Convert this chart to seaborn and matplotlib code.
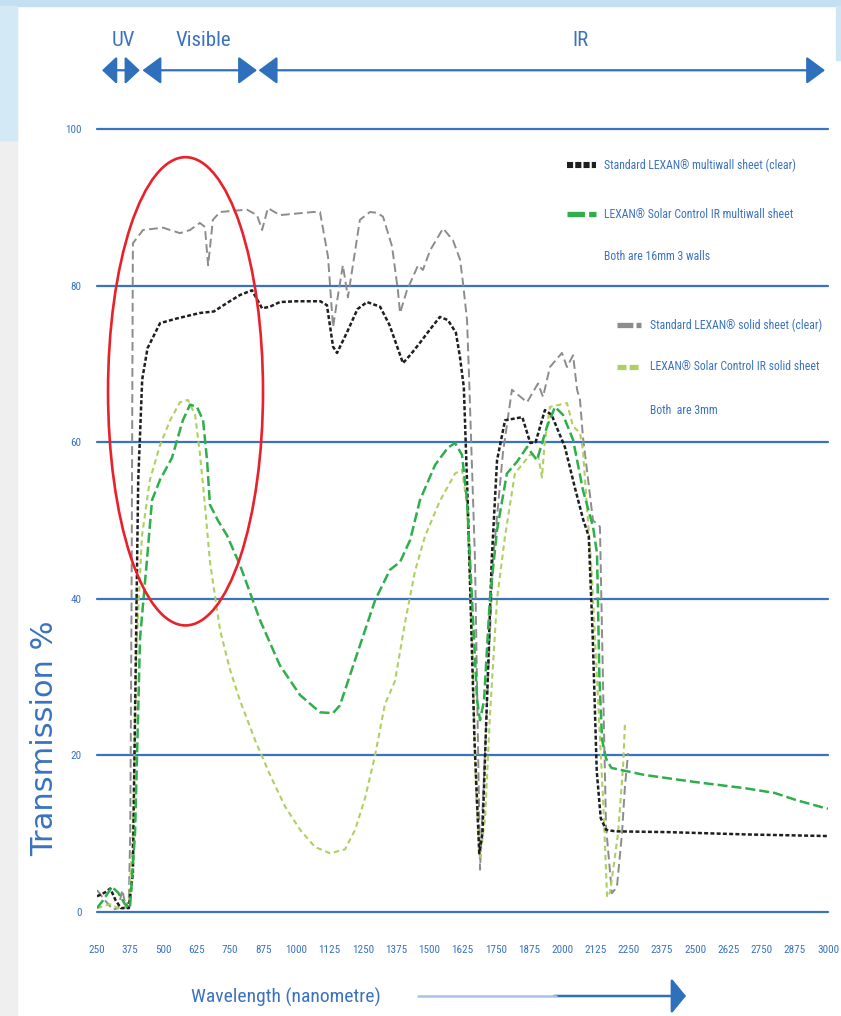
import numpy as np
import pandas as pd
import matplotlib
matplotlib.use("Agg")
import matplotlib.pyplot as plt
import matplotlib.font_manager as fm
from matplotlib.patches import Ellipse, FancyArrowPatch, Rectangle
from matplotlib.lines import Line2D
import seaborn as sns

# ---------------- data ----------------
wl_std_multi = [250, 280, 300, 320, 340, 370, 385, 395, 405, 420, 440, 487, 550, 637, 690, 740, 788, 833,
                871, 900, 938, 1000, 1090, 1115, 1138, 1153, 1190, 1230, 1266, 1315, 1350, 1371, 1401, 1430,
                1465, 1505, 1540, 1570, 1600, 1615, 1630, 1645, 1655, 1670, 1688, 1700, 1715, 1735, 1755,
                1785, 1850, 1880, 1900, 1935, 1960, 2010, 2050, 2080, 2100, 2115, 2130, 2145, 2165, 2200,
                2400, 2700, 3000]
t_std_multi = [2.0, 2.5, 3.0, 1.5, 0.5, 0.5, 5, 30, 55, 68, 72, 75.2, 75.8, 76.5, 76.7, 77.8, 78.8, 79.4,
               77.1, 77.3, 77.9, 78.0, 78.0, 77.5, 72.2, 71.4, 74.0, 77.0, 77.9, 77.3, 75.0, 73.0, 70.1, 71.2,
               72.7, 74.5, 76.0, 75.6, 74.0, 71.0, 67.0, 52.0, 40.0, 22.0, 7.5, 10.0, 25.0, 45.0, 57.7,
               62.8, 63.2, 59.9, 60.0, 64.1, 63.5, 59.4, 53.9, 50.0, 48.0, 35.0, 18.0, 12.0, 10.5, 10.3,
               10.2, 9.9, 9.7]

wl_sc_multi = [250, 273, 306, 329, 355, 374, 393, 412, 438, 457, 487, 532, 573, 600, 626, 649, 664, 675, 705,
               739, 788, 863, 938, 1014, 1089, 1138, 1164, 1221, 1296, 1352, 1390, 1428, 1465, 1522, 1570,
               1597, 1623, 1642, 1661, 1680, 1691, 1706, 1728, 1755, 1792, 1830, 1868, 1905, 1943, 1973,
               2003, 2041, 2078, 2116, 2131, 2140, 2150, 2165, 2185, 2310, 2500, 2690, 2800, 2880, 2975, 3000]
t_sc_multi = [0.5, 1.5, 3.2, 2.5, 1.0, 0.5, 10, 35, 45, 52.6, 55.2, 58.0, 62.8, 64.8, 64.5, 62.8, 57.7, 52.0,
              50.0, 48.1, 44.3, 37.3, 31.5, 27.7, 25.5, 25.4, 26.4, 32.2, 39.8, 43.7, 44.7, 47.5, 52.6, 57.1,
              59.3, 59.9, 58.4, 52.6, 39.8, 27.0, 24.5, 27.0, 40.0, 48.8, 56.0, 57.5, 59.4, 57.7, 62.0, 64.5,
              63.5, 60.3, 53.9, 49.2, 45.8, 30.0, 22.0, 19.6, 18.4, 17.5, 16.6, 15.8, 15.2, 14.3, 13.4, 13.2]

wl_std_solid = [250, 280, 310, 330, 345, 360, 370, 375, 380, 385, 423, 498, 562, 600, 637, 656, 668, 686, 713,
                814, 852, 871, 893, 938, 1063, 1089, 1119, 1138, 1153, 1175, 1194, 1239, 1277, 1303, 1326,
                1360, 1382, 1390, 1416, 1458, 1476, 1503, 1552, 1589, 1616, 1627, 1642, 1650, 1672, 1691,
                1740, 1777, 1811, 1868, 1909, 1928, 1954, 1999, 2018, 2041, 2056, 2067, 2078, 2116, 2142,
                2155, 2165, 2187, 2206, 2225, 2236, 2248]
t_std_solid = [2.8, 1.5, 0.3, 0.5, 2.8, 0.5, 2.0, 10, 40, 85.4, 87.1, 87.4, 86.7, 87.1, 88.0, 87.5, 82.6, 88.4,
               89.4, 89.7, 89.0, 87.1, 89.9, 89.0, 89.4, 89.4, 83.7, 74.7, 78.0, 82.6, 78.5, 88.4, 89.4, 89.3,
               88.8, 85.0, 79.4, 76.5, 79.4, 82.6, 82.0, 84.5, 87.3, 85.8, 83.3, 80.3, 75.6, 68.0, 45.0, 5.4,
               45.0, 58.6, 66.7, 65.1, 67.5, 65.8, 69.6, 71.4, 69.6, 71.1, 66.7, 65.4, 60.7, 50.0, 49.2,
               27.0, 10.9, 2.4, 3.2, 10.0, 16.0, 20.3]

wl_sc_solid = [250, 300, 340, 370, 385, 400, 419, 449, 487, 525, 562, 592, 619, 637, 656, 675, 713, 750, 788,
               844, 901, 957, 1014, 1070, 1127, 1183, 1221, 1258, 1296, 1333, 1371, 1409, 1446, 1484, 1540,
               1597, 1623, 1642, 1661, 1676, 1691, 1710, 1728, 1755, 1785, 1822, 1879, 1909, 1924, 1935,
               1954, 2018, 2041, 2067, 2078, 2097, 2110, 2154, 2169, 2180, 2210, 2229, 2236]
t_sc_solid = [0.5, 1.0, 0.3, 1.0, 10, 35, 48, 55.2, 59.6, 62.8, 65.1, 65.4, 63.5, 58.6, 52.0, 44.7, 36.0, 31.0,
              27.0, 22.0, 17.5, 13.5, 10.5, 8.3, 7.5, 8.0, 10.5, 14.5, 20.0, 26.5, 29.5, 37.0, 43.5, 48.0,
              52.5, 56.0, 56.5, 52.0, 35.0, 15.0, 7.0, 12.0, 25.0, 40.0, 48.0, 56.0, 58.4, 58.4, 55.5, 60.3,
              64.5, 65.0, 62.0, 61.2, 59.0, 50.0, 44.0, 14.3, 1.9, 2.5, 10.0, 18.5, 24.0]

x_ticks = list(range(250, 3001, 125))
y_ticks = [0, 20, 40, 60, 80, 100]

legend_labels = ["Standard LEXAN\u00ae multiwall sheet (clear)",
                 "LEXAN\u00ae Solar Control IR multiwall sheet",
                 "Both are 16mm 3 walls",
                 "Standard LEXAN\u00ae solid sheet (clear)",
                 "LEXAN\u00ae Solar Control IR solid sheet",
                 "Both  are 3mm"]
band_labels = ["UV", "Visible", "IR"]

# ---------------- style ----------------
sns.set_theme(style="white")
names = {f.name for f in fm.fontManager.ttflist}
NARROW = next((n for n in ["Liberation Sans Narrow", "Roboto Condensed", "Open Sans Condensed",
                           "Liberation Sans"] if n in names), "DejaVu Sans")
plt.rcParams["font.family"] = [NARROW, "DejaVu Sans"]

BLUE = "#3a72c0"
W, H = 841, 1016
fig = plt.figure(figsize=(W / 100, H / 100), dpi=100)
fig.patch.set_facecolor("white")

def fx(x):
    return x / W

def fy(y):
    return 1 - y / H

# background decorations
fig.add_artist(Rectangle((0, 0), fx(17), 1, transform=fig.transFigure, color="#efefef", zorder=0))
fig.add_artist(Rectangle((0, fy(6)), 1, 6 / H, transform=fig.transFigure, color="#c3e0f3", zorder=0))
fig.add_artist(Rectangle((0, fy(140)), fx(17), 134 / H, transform=fig.transFigure, color="#d4e9f6", zorder=0))
fig.add_artist(Rectangle((fx(836), fy(60)), 5 / W, 54 / H, transform=fig.transFigure, color="#cfe6f5", zorder=0))

ax = fig.add_axes([fx(97), fy(912), (828 - 97) / W, (912 - 129) / H])
ax.set_facecolor("white")

# gridlines
for yv in y_ticks:
    ax.axhline(yv, color=BLUE, lw=1.6, clip_on=False, zorder=1)

# series
df1 = pd.DataFrame({"wl": wl_std_solid, "t": t_std_solid})
df2 = pd.DataFrame({"wl": wl_sc_solid, "t": t_sc_solid})
df3 = pd.DataFrame({"wl": wl_std_multi, "t": t_std_multi})
df4 = pd.DataFrame({"wl": wl_sc_multi, "t": t_sc_multi})

sns.lineplot(data=df1, x="wl", y="t", ax=ax, color="#8c8c8c", lw=1.4,
             linestyle=(0, (4.5, 2.2)), zorder=3)
sns.lineplot(data=df2, x="wl", y="t", ax=ax, color="#aed062", lw=1.5,
             linestyle=(0, (2.6, 1.8)), zorder=3)
sns.lineplot(data=df3, x="wl", y="t", ax=ax, color="#1f1f1f", lw=1.8,
             linestyle=(0, (1.6, 0.9)), zorder=4)
sns.lineplot(data=df4, x="wl", y="t", ax=ax, color="#2fae4b", lw=1.8,
             linestyle=(0, (4.0, 1.6)), zorder=4)

ax.set_xlim(250, 3000)
ax.set_ylim(0, 100)
for s in ax.spines.values():
    s.set_visible(False)
ax.set_xticks(x_ticks)
ax.set_xticklabels([str(v) for v in x_ticks])
ax.set_yticks(y_ticks)
ax.set_yticklabels([str(v) for v in y_ticks])
ax.tick_params(axis="x", length=0, pad=24, labelsize=8, labelcolor=BLUE)
ax.tick_params(axis="y", length=0, pad=11, labelsize=8, labelcolor=BLUE)
ax.set_xlabel("")
ax.set_ylabel("")
ax.grid(False)

# red ellipse
ax.add_patch(Ellipse((583, 66.5), 583, 59.8, fill=False, edgecolor="#e8212a", lw=1.9, zorder=5))

# top band arrows
AB = "#2f70bd"
def band_arrow(x0, x1, style):
    p = FancyArrowPatch((x0, 107.5), (x1, 107.5), transform=ax.transData,
                        arrowstyle=style, mutation_scale=1, color=AB, lw=1.6,
                        shrinkA=0, shrinkB=0, clip_on=False)
    ax.add_patch(p)

band_arrow(269, 411, "<|-|>,head_length=9,head_width=8.5")
band_arrow(421, 852, "<|-|>,head_length=11.5,head_width=8.5")
band_arrow(858, 2989, "<|-|>,head_length=11.5,head_width=8.5")

for lab, x in zip(band_labels, [123, 203, 581]):
    fig.text(fx(x), fy(40), lab, ha="center", va="center", fontsize=15, color=BLUE)

# legend
def swatch(x0, x1, y, color, lw, ls):
    fig.add_artist(Line2D([fx(x0), fx(x1)], [fy(y), fy(y)], transform=fig.transFigure,
                          color=color, lw=lw, linestyle=ls, solid_capstyle="butt",
                          dash_capstyle="butt"))

swatch(567, 596, 165, "#1f1f1f", 4.4, (0, (1.0, 0.35)))
swatch(567, 596, 214, "#2fae4b", 3.8, (0, (3.3, 0.8)))
swatch(617, 641, 325, "#8c8c8c", 3.8, (0, (3.0, 0.6)))
swatch(617, 641, 367, "#aed062", 3.8, (0, (1.7, 0.6)))

leg_pos = [(604, 165), (604, 214), (604, 256), (650, 325), (650, 367), (650, 410)]
for lab, (x, y) in zip(legend_labels, leg_pos):
    fig.text(fx(x), fy(y), lab, ha="left", va="center", fontsize=8.5, color=BLUE)

# axis titles
fig.text(fx(45), fy(738), "Transmission %", rotation=90, ha="center", va="center",
         fontsize=22, color=BLUE, family="DejaVu Sans")
fig.text(fx(286), fy(997), "Wavelength (nanometre)", ha="center", va="center",
         fontsize=14, color=BLUE)

# bottom arrow
fig.add_artist(Line2D([fx(418), fx(556)], [fy(996), fy(996)], transform=fig.transFigure,
                      color="#a9c3e6", lw=1.8))
fig.add_artist(FancyArrowPatch((fx(554), fy(996)), (fx(686), fy(996)), transform=fig.transFigure,
                               arrowstyle="-|>,head_length=9,head_width=11", mutation_scale=1,
                               color=AB, lw=1.8, shrinkA=0, shrinkB=0))

fig.savefig("out.png", dpi=100, facecolor=fig.get_facecolor())
